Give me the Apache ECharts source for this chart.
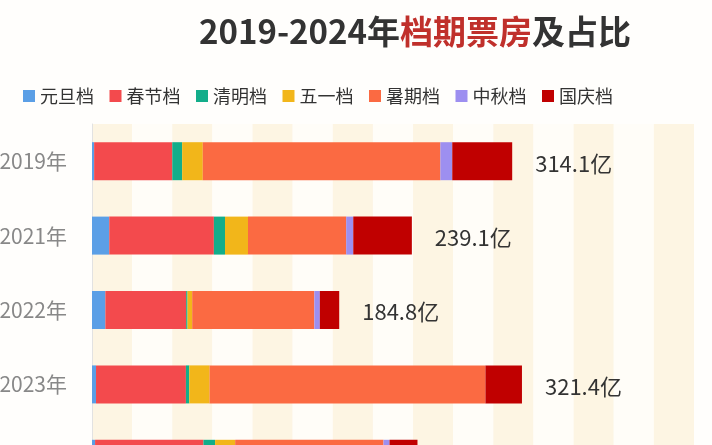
<!DOCTYPE html>
<html>
<head>
<meta charset="utf-8">
<script src="https://cdn.jsdelivr.net/npm/echarts@6/dist/echarts.min.js"></script>
<style>
html,body{margin:0;padding:0;background:#fffefc;}
#c{width:712px;height:445px;}
</style>
</head>
<body>
<div id="c"></div>
<script>
const years = ['2019年', '2021年', '2022年', '2023年', '2024年'];
const seriesNames = ['元旦档', '春节档', '清明档', '五一档', '暑期档', '中秋档', '国庆档'];
const yuandan = [1.6, 12.9, 10.0, 3.0, 2.3];
const chunjie = [58.4, 78.2, 60.4, 67.2, 81.0];
const qingming = [7.4, 8.3, 1.0, 2.5, 8.7];
const wuyi = [15.4, 17.2, 3.5, 15.2, 15.0];
const shuqi = [177.6, 73.4, 91.3, 206.2, 110.9];
const zhongqiu = [8.9, 5.3, 4.1, 0, 4.5];
const guoqing = [44.8, 43.8, 14.5, 27.3, 20.9];
const totals = ['314.1', '239.1', '184.8', '321.4', '243.2'];
const colors = ['#5b9fe6', '#f34a4d', '#13ad8a', '#f2b61a', '#fb6a42', '#9d8ff0', '#c00000'];

const dataList = [yuandan, chunjie, qingming, wuyi, shuqi, zhongqiu, guoqing];
const FONT = '"Noto Sans CJK SC", "Noto Sans", sans-serif';

const series = seriesNames.map((name, i) => {
  const s = {
    name: name,
    type: 'bar',
    stack: 'total',
    barWidth: 38,
    data: dataList[i],
    itemStyle: { color: colors[i] }
  };
  if (i === seriesNames.length - 1) {
    s.label = {
      show: true,
      position: 'right',
      distance: 23,
      offset: [0, 2],
      fontSize: 22,
      color: '#333',
      fontFamily: FONT,
      formatter: p => totals[p.dataIndex] + '亿'
    };
  }
  return s;
});

const chart = echarts.init(document.getElementById('c'));
chart.setOption({
  backgroundColor: '#fffefc',
  animation: false,
  color: colors,
  title: {
    text: '{a|2019-2024年}{b|档期票房}{a|及占比}',
    left: 199,
    top: 15,
    padding: 0,
    textStyle: {
      rich: {
        a: { fontSize: 33, fontWeight: 'bold', color: '#333', fontFamily: FONT },
        b: { fontSize: 33, fontWeight: 'bold', color: '#c0302b', fontFamily: FONT }
      }
    }
  },
  legend: {
    left: 23,
    top: 87,
    icon: 'rect',
    itemWidth: 12,
    itemHeight: 12,
    itemGap: 15.5,
    padding: 0,
    textStyle: { fontSize: 18, color: '#333', fontFamily: FONT },
    data: seriesNames
  },
  grid: { left: 92, top: 124, width: 602, height: 372, outerBoundsMode: 'none', containLabel: false },
  xAxis: {
    type: 'value',
    min: 0,
    max: 450,
    interval: 30,
    axisLine: { show: false },
    axisTick: { show: false },
    axisLabel: { show: false },
    splitLine: { show: false },
    splitArea: { show: true, areaStyle: { color: ['#fdf5e3', '#fffdf8'] } }
  },
  yAxis: {
    type: 'category',
    inverse: true,
    data: years,
    axisLine: { show: true, lineStyle: { color: '#e2e2e2', width: 1 } },
    axisTick: { show: false },
    axisLabel: { fontSize: 21, color: '#888', margin: 25, fontFamily: FONT }
  },
  series: series
});
</script>
</body>
</html>
